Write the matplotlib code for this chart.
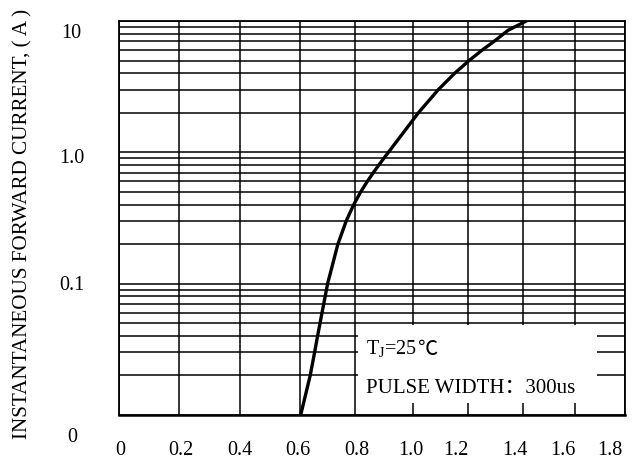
import numpy as np
import matplotlib
matplotlib.use("Agg")
from matplotlib import pyplot as plt
from matplotlib.patches import Rectangle
from matplotlib.transforms import ScaledTranslation

plt.rcParams['font.family'] = ['Liberation Serif', 'Noto Sans CJK SC']
plt.rcParams['mathtext.fontset'] = 'custom'
plt.rcParams['mathtext.rm'] = 'Liberation Serif'

# forward voltage (V) vs instantaneous forward current (A)
vf = [0.6025, 0.6371, 0.6531, 0.6640, 0.6800, 0.7004, 0.7378, 0.768, 0.7953, 0.8197,
      0.8424, 0.8631, 0.8821, 0.8993, 0.9152, 1.0196, 1.092, 1.1516, 1.204,
      1.2513, 1.2949, 1.3458, 1.4085]
i_f = [0.01, 0.02, 0.03, 0.04, 0.06, 0.1, 0.2, 0.3, 0.4, 0.5,
       0.6, 0.7, 0.8, 0.9, 1.0, 2.0, 3.0, 4.0, 5.0,
       6.0, 7.0, 8.5, 9.9]

x_ticks = [0, 0.2, 0.4, 0.6, 0.8, 1.0, 1.2, 1.4, 1.6, 1.8]
x_labels = ['0', '0.2', '0.4', '0.6', '0.8', '1.0', '1.2', '1.4', '1.6', '1.8']
y_ticks = [0.01, 0.1, 1, 10]
y_labels = ['0', '0.1', '1.0', '10']

# the printed grid is not evenly spaced: pixel column of each vertical line
grid_px = [119, 179, 240, 300, 355, 413, 468, 523, 575, 625]
xs = np.array(x_ticks, float)
ps = np.array(grid_px, float)


def fwd(x):
    x = np.asarray(x, float)
    out = np.interp(x, xs, ps)
    out = out + np.where(x < xs[0], (x - xs[0]) * (ps[1] - ps[0]) / 0.2, 0)
    out = out + np.where(x > xs[-1], (x - xs[-1]) * (ps[-1] - ps[-2]) / 0.2, 0)
    return out


def inv(p):
    p = np.asarray(p, float)
    out = np.interp(p, ps, xs)
    out = out + np.where(p < ps[0], (p - ps[0]) * 0.2 / (ps[1] - ps[0]), 0)
    out = out + np.where(p > ps[-1], (p - ps[-1]) * 0.2 / (ps[-1] - ps[-2]), 0)
    return out


fig = plt.figure(figsize=(6.33, 4.61), dpi=100)
ax = fig.add_axes([119 / 633, 1 - 415 / 461, 506 / 633, 394 / 461])

ax.set_xscale('function', functions=(fwd, inv))
ax.set_yscale('log')
ax.set_xlim(0, 1.8)
ax.set_ylim(0.01, 10)

ax.set_xticks(x_ticks)
ax.set_xticklabels(x_labels, fontsize=14.5)
ax.set_yticks(y_ticks)
ax.set_yticklabels(y_labels, fontsize=14.5, ha='center')
ax.yaxis.set_minor_locator(matplotlib.ticker.LogLocator(base=10, subs=np.arange(2, 10)))
ax.yaxis.set_minor_formatter(matplotlib.ticker.NullFormatter())
ax.tick_params(axis='both', which='both', length=0)
ax.tick_params(axis='x', pad=19)
ax.tick_params(axis='y', pad=34)

ax.grid(True, which='both', axis='y', color='black', lw=1.1)
ax.grid(True, which='major', axis='x', color='black', lw=1.1)
for s in ax.spines.values():
    s.set_linewidth(1.3)
ax.spines['bottom'].set_linewidth(1.8)

# nudge labels to where they sit in the print
x_shift = [1.5, 2, 0, -2, 1.5, -2, -12, -8.5, -12, -15]
for lab, dx in zip(ax.get_xticklabels(), x_shift):
    lab.set_transform(lab.get_transform() + ScaledTranslation(dx / 100, 0, fig.dpi_scale_trans))
y_shift = [-19.5, 1, -3.5, -10]
for lab, dy in zip(ax.get_yticklabels(), y_shift):
    lab.set_transform(lab.get_transform() + ScaledTranslation(0, dy / 100, fig.dpi_scale_trans))

# white panel behind the notes
ax.add_patch(Rectangle((0.81, 0.0123), 1.69 - 0.81, 0.0484 - 0.0123,
                       facecolor='white', edgecolor='none', zorder=2))
t1 = ax.text(0.838, 0.0286, r'T$_\mathrm{J}$=25', fontsize=14.5, va='baseline', zorder=4)
ax.annotate('℃', xy=(1, 0.0286), xycoords=(t1, 'data'), fontsize=14.5,
            va='baseline', ha='left', family='Noto Sans CJK SC', zorder=4)
ax.text(0.838, 0.0147, 'PULSE WIDTH：300us', fontsize=15, va='baseline', zorder=4)

ax.plot(vf, i_f, color='black', lw=2.4, zorder=3, solid_joinstyle='round')

fig.text(23 / 633, 1 - 224 / 461, 'INSTANTANEOUS FORWARD CURRENT, ( A )',
         rotation=90, fontsize=15.2, ha='center', va='center')

fig.savefig('out.png', dpi=100)
